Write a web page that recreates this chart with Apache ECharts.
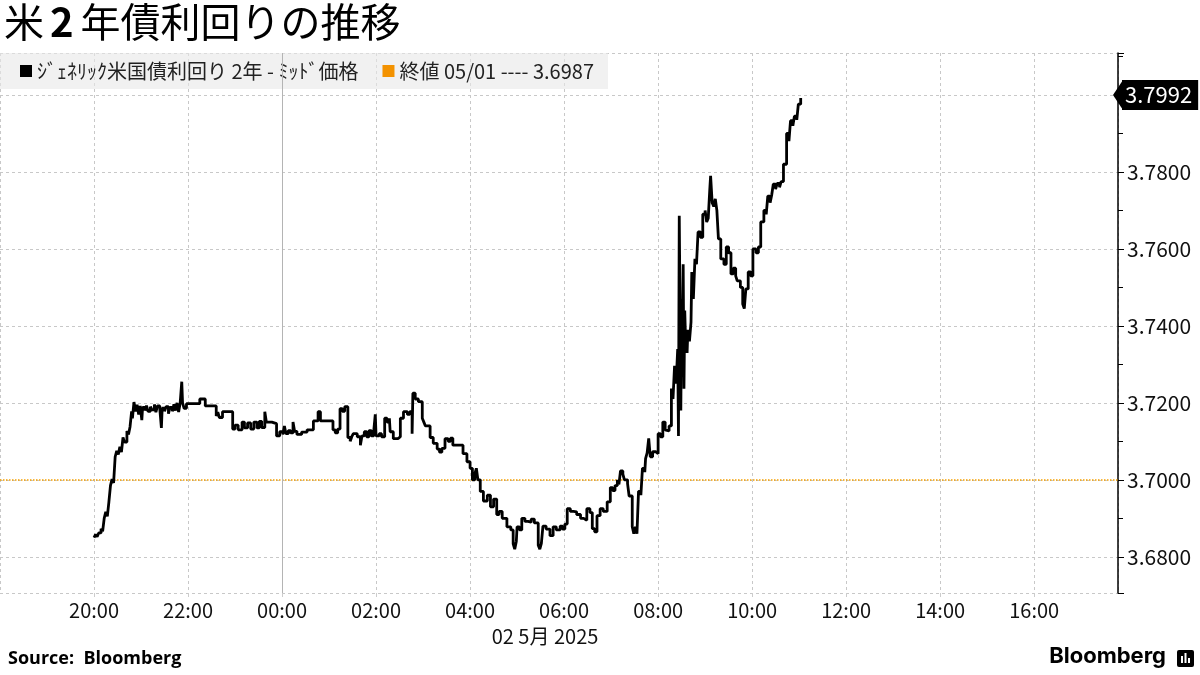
<!DOCTYPE html>
<html><head><meta charset="utf-8">
<script src="https://cdn.jsdelivr.net/npm/echarts@6/dist/echarts.min.js"></script>
<style>html,body{margin:0;padding:0;background:#fff}#c{width:1200px;height:675px}</style>
</head><body><div id="c"></div>
<script>
const titleMain = '米';
const titleNum = '2';
const titleRest = '年債利回りの推移';
const seriesName = 'ｼﾞｪﾈﾘｯｸ米国債利回り 2年 - ﾐｯﾄﾞ価格';
const closeName = '終値 05/01 ---- 3.6987';
const closeValue = 3.6987;
const lastValue = 3.7992;
const dateLabel = '02 5月 2025';
const sourceText = 'Source:  Bloomberg';
const xTickLabels = ['20:00','22:00','00:00','02:00','04:00','06:00','08:00','10:00','12:00','14:00','16:00'];
const yTickLabels = ['3.6800','3.7000','3.7200','3.7400','3.7600','3.7800'];
const xStart = '05-01 18:00';
const xEnd = '05-02 17:47';
const dayBreak = '05-02 00:00';

const times = [
'20:00','20:02','20:04','20:06','20:09','20:11','20:13','20:15','20:17','20:19','20:21','20:23','20:25','20:27','20:29','20:31','20:33','20:35','20:37','20:39',
'20:42','20:44','20:46','20:48','20:49','20:51','20:53','20:55','20:57','20:59','21:01','21:02','21:05','21:07','21:09','21:12','21:14','21:17','21:19','21:21',
'21:24','21:26','21:27','21:30','21:32','21:35','21:37','21:40','21:42','21:44','21:46','21:48','21:50','21:52','21:53','21:55','21:58','22:15','22:22','22:36',
'22:38','22:40','22:44','22:57','23:00','23:04','23:09','23:12','23:16','23:20','23:24','23:28','23:31','23:34','23:38','23:40','23:47','23:53','23:57','00:01',
'00:03','00:05','00:08','00:11','00:14','00:16','00:19','00:25','00:32','00:40','00:46','00:49','01:05','01:08','01:11','01:14','01:17','01:20','01:24','01:27',
'01:29','01:31','01:36','01:40','01:42','01:45','01:48','01:51','01:54','01:57','01:59','02:00','02:04','02:07','02:11','02:14','02:17','02:18','02:22','02:28',
'02:31','02:35','02:40','02:43','02:46','02:47','02:50','02:54','02:59','03:01','03:03','03:09','03:13','03:18','03:21','03:24','03:28','03:32','03:35','03:38',
'03:51','03:56','04:00','04:03','04:06','04:08','04:10','04:13','04:17','04:22','04:26','04:30','04:34','04:37','04:41','04:47','04:52','04:55','04:57','04:59',
'05:00','05:03','05:06','05:10','05:14','05:18','05:22','05:27','05:29','05:31','05:33','05:37','05:42','05:46','05:50','05:55','05:58','06:01','06:04','06:08',
'06:12','06:16','06:21','06:25','06:29','06:33','06:36','06:39','06:42','06:46','06:50','06:55','06:59','07:02','07:05','07:08','07:10','07:12','07:15','07:17',
'07:21','07:23','07:27','07:29','07:31','07:33','07:35','07:38','07:40','07:43','07:44','07:46','07:48','07:50','07:53','07:57','08:00','08:03','08:06','08:09',
'08:11','08:14','08:17','08:19','08:21','08:23','08:25','08:26','08:27','08:29','08:30','08:31','08:32','08:33','08:34','08:35','08:37','08:38','08:40','08:42',
'08:43','08:45','08:47','08:49','08:51','08:54','08:57','09:00','09:02','09:04','09:06','09:07','09:09','09:11','09:13','09:15','09:17','09:20','09:24','09:27',
'09:30','09:33','09:36','09:39','09:41','09:45','09:48','09:50','09:52','09:55','09:58','10:01','10:05','10:08','10:11','10:15','10:18','10:20','10:23','10:25',
'10:27','10:30','10:32','10:35','10:37','10:40','10:44','10:47','10:49','10:52','10:54','10:57','10:59','11:02'
];
const values = [
3.6850,3.6858,3.6852,3.6862,3.6873,3.6866,3.6900,3.6917,3.6905,3.6943,3.6985,3.7002,3.6992,3.7060,3.7075,3.7066,3.7086,3.7072,3.7110,3.7098,
3.7127,3.7118,3.7138,3.7178,3.7160,3.7202,3.7178,3.7195,3.7170,3.7192,3.7155,3.7188,3.7180,3.7193,3.7178,3.7190,3.7182,3.7196,3.7176,3.7192,
3.7184,3.7135,3.7186,3.7178,3.7190,3.7172,3.7188,3.7178,3.7196,3.7180,3.7200,3.7176,3.7200,3.7255,3.7200,3.7186,3.7198,3.7210,3.7192,3.7166,
3.7176,3.7162,3.7177,3.7132,3.7142,3.7130,3.7150,3.7135,3.7148,3.7132,3.7150,3.7135,3.7152,3.7136,3.7177,3.7150,3.7146,3.7114,3.7125,3.7118,
3.7140,3.7120,3.7128,3.7122,3.7150,3.7126,3.7118,3.7124,3.7130,3.7153,3.7177,3.7153,3.7130,3.7122,3.7132,3.7185,3.7178,3.7190,3.7110,3.7100,
3.7112,3.7120,3.7112,3.7090,3.7114,3.7125,3.7112,3.7128,3.7114,3.7126,3.7170,3.7114,3.7120,3.7112,3.7160,3.7150,3.7160,3.7125,3.7107,3.7112,
3.7160,3.7177,3.7170,3.7177,3.7120,3.7225,3.7210,3.7203,3.7160,3.7150,3.7140,3.7110,3.7095,3.7080,3.7072,3.7082,3.7107,3.7100,3.7108,3.7090,
3.7068,3.7047,3.7030,3.7000,3.7015,3.7030,3.7000,3.6970,3.6945,3.6960,3.6930,3.6950,3.6910,3.6918,3.6900,3.6878,3.6870,3.6834,3.6820,3.6840,
3.6878,3.6870,3.6900,3.6892,3.6890,3.6898,3.6888,3.6830,3.6820,3.6835,3.6880,3.6872,3.6855,3.6878,3.6870,3.6880,3.6872,3.6885,3.6925,3.6918,
3.6917,3.6910,3.6900,3.6895,3.6925,3.6915,3.6873,3.6865,3.6907,3.6925,3.6918,3.6943,3.6980,3.6972,3.6985,3.7000,3.6988,3.7023,3.7015,3.7000,
3.6990,3.6958,3.6878,3.6860,3.6878,3.6860,3.6970,3.6960,3.7030,3.7020,3.7055,3.7070,3.7108,3.7060,3.7073,3.7068,3.7120,3.7112,3.7150,3.7130,
3.7127,3.7140,3.7237,3.7210,3.7296,3.7250,3.7340,3.7114,3.7686,3.7180,3.7470,3.7380,3.7560,3.7237,3.7440,3.7366,3.7330,3.7390,3.7360,3.7410,
3.7540,3.7470,3.7574,3.7560,3.7644,3.7630,3.7690,3.7700,3.7670,3.7680,3.7756,3.7790,3.7720,3.7710,3.7730,3.7700,3.7626,3.7574,3.7560,3.7605,
3.7590,3.7535,3.7550,3.7530,3.7517,3.7500,3.7457,3.7445,3.7496,3.7540,3.7530,3.7600,3.7590,3.7605,3.7670,3.7700,3.7690,3.7737,3.7720,3.7740,
3.7768,3.7755,3.7770,3.7760,3.7775,3.7820,3.7900,3.7880,3.7933,3.7920,3.7945,3.7935,3.7976,3.7992
];

// parse "MM-DD HH:MM" (2025, UTC) to ms
function stamp(s) {
  const mo = parseInt(s.slice(0, 2), 10), d = parseInt(s.slice(3, 5), 10);
  const h = parseInt(s.slice(6, 8), 10), mi = parseInt(s.slice(9, 11), 10);
  return Date.UTC(2025, mo - 1, d, h, mi);
}
function toStamp(t) {
  const h = parseInt(t.slice(0, 2), 10);
  return stamp((h >= 18 ? '05-01 ' : '05-02 ') + t);
}
const lineData = times.map((t, i) => [toStamp(t), values[i]]);
const TWO_H = 2 * 3600 * 1000;

const FONT = '"Noto Sans CJK JP", "Noto Sans", sans-serif';
const chart = echarts.init(document.getElementById('c'), null, { renderer: 'canvas' });

chart.setOption({
  animation: false,
  backgroundColor: '#ffffff',
  textStyle: { fontFamily: FONT },
  title: {
    text: '{a|' + titleMain + '}{b|' + titleNum + '}{a|' + titleRest + '}',
    left: -1, top: -3,
    textStyle: {
      rich: {
        a: { fontSize: 40, color: '#000', fontFamily: FONT, fontWeight: 'normal' },
        b: { fontSize: 40, color: '#000', fontFamily: FONT, fontWeight: 'bold', padding: [0, 7, 0, 6] }
      }
    }
  },
  legend: {
    left: 0, top: 53,
    data: [seriesName, closeName],
    icon: 'rect',
    itemWidth: 12, itemHeight: 12, itemGap: 24,
    backgroundColor: 'rgba(232,232,232,0.6)',
    padding: [8, 14, 8, 20],
    textStyle: { fontSize: 20, color: '#222', fontFamily: FONT },
    selectedMode: false
  },
  grid: { left: 0, right: 82, top: 53, bottom: 82, containLabel: false },
  xAxis: {
    type: 'value',
    min: stamp(xStart),
    max: stamp(xEnd),
    interval: TWO_H,
    axisLine: { show: false },
    axisTick: { show: true, length: 4, lineStyle: { color: '#cccccc' } },
    splitLine: { show: true, lineStyle: { color: '#c8c8c8', type: [3, 3], width: 1 } },
    axisLabel: {
      showMinLabel: false, showMaxLabel: false,
      fontSize: 20, color: '#111', margin: 7, fontFamily: FONT,
      formatter: function (v) {
        const d = new Date(v);
        const s = String(d.getUTCHours()).padStart(2, '0') + ':' + String(d.getUTCMinutes()).padStart(2, '0');
        return xTickLabels.indexOf(s) >= 0 ? s : '';
      }
    },
    name: dateLabel,
    nameLocation: 'middle',
    nameGap: 33,
    nameTextStyle: { fontSize: 20, color: '#111', fontFamily: FONT, padding: [0, 28, 0, 0] }
  },
  yAxis: {
    type: 'value',
    position: 'right',
    min: 3.6706,
    max: 3.8109,
    splitNumber: 7,
    scale: true,
    axisLine: { show: true, lineStyle: { color: '#000', width: 1.5 } },
    axisTick: { show: true, length: 6, lineStyle: { color: '#000' } },
    minorTick: { show: true, splitNumber: 2, length: 5, lineStyle: { color: '#000' } },
    splitLine: { show: true, lineStyle: { color: '#c8c8c8', type: [3, 3], width: 1 } },
    axisLabel: {
      showMinLabel: false, showMaxLabel: false,
      fontSize: 21, color: '#111', margin: 9, fontFamily: FONT,
      formatter: function (v) {
        const s = v.toFixed(4);
        return yTickLabels.indexOf(s) >= 0 ? s : '';
      }
    }
  },
  series: [
    {
      name: seriesName,
      type: 'line',
      step: 'end',
      data: lineData,
      showSymbol: false,
      symbol: 'none',
      itemStyle: { color: '#000' },
      lineStyle: { color: '#000', width: 2.8 },
      z: 5,
      markLine: {
        silent: true,
        symbol: ['none', 'triangle'],
        symbolSize: [30, 10],
        symbolRotate: [0, 90],
        data: [{ yAxis: lastValue }],
        lineStyle: { width: 0, color: '#000' },
        itemStyle: { color: '#000' },
        label: {
          show: true, position: 'end', distance: 4,
          formatter: lastValue.toFixed(4),
          backgroundColor: '#000', color: '#fff',
          fontSize: 22, lineHeight: 24, padding: [3, 6, 3, 3],
          fontFamily: FONT
        }
      }
    },
    {
      name: closeName,
      type: 'line',
      data: [],
      itemStyle: { color: '#f39200' },
      lineStyle: { color: '#f39200' },
      markLine: {
        silent: true,
        symbol: ['none', 'none'],
        data: [{ yAxis: closeValue }],
        lineStyle: { color: '#f5a000', type: 'dotted', width: 1.5 },
        label: { show: false }
      }
    },
    {
      name: 'day',
      type: 'line',
      data: [],
      markLine: {
        silent: true,
        symbol: ['none', 'none'],
        data: [{ xAxis: stamp(dayBreak) }],
        lineStyle: { color: '#b4b4b4', type: 'solid', width: 1 },
        label: { show: false }
      }
    }
  ],
  graphic: [
    {
      type: 'text', left: 8, top: 650,
      style: { text: sourceText, fontSize: 18, fontWeight: 'bold', fill: '#000', fontFamily: '"Open Sans", "Noto Sans", sans-serif' }
    },
    {
      type: 'text', right: 34, top: 645,
      style: { text: 'Bloomberg', fontSize: 22, fontWeight: 'bold', fill: '#000', fontFamily: '"Inter", "Noto Sans", sans-serif' }
    },
    {
      type: 'group', right: 6, top: 650,
      children: [
        { type: 'rect', shape: { x: 0, y: 0, width: 17, height: 17, r: 2 }, style: { fill: '#000' } },
        { type: 'rect', shape: { x: 4, y: 6, width: 2, height: 7 }, style: { fill: '#fff' } },
        { type: 'rect', shape: { x: 7.5, y: 3, width: 2, height: 10 }, style: { fill: '#fff' } },
        { type: 'rect', shape: { x: 11, y: 8, width: 2, height: 5 }, style: { fill: '#fff' } }
      ]
    }
  ]
});
</script>
</body></html>
